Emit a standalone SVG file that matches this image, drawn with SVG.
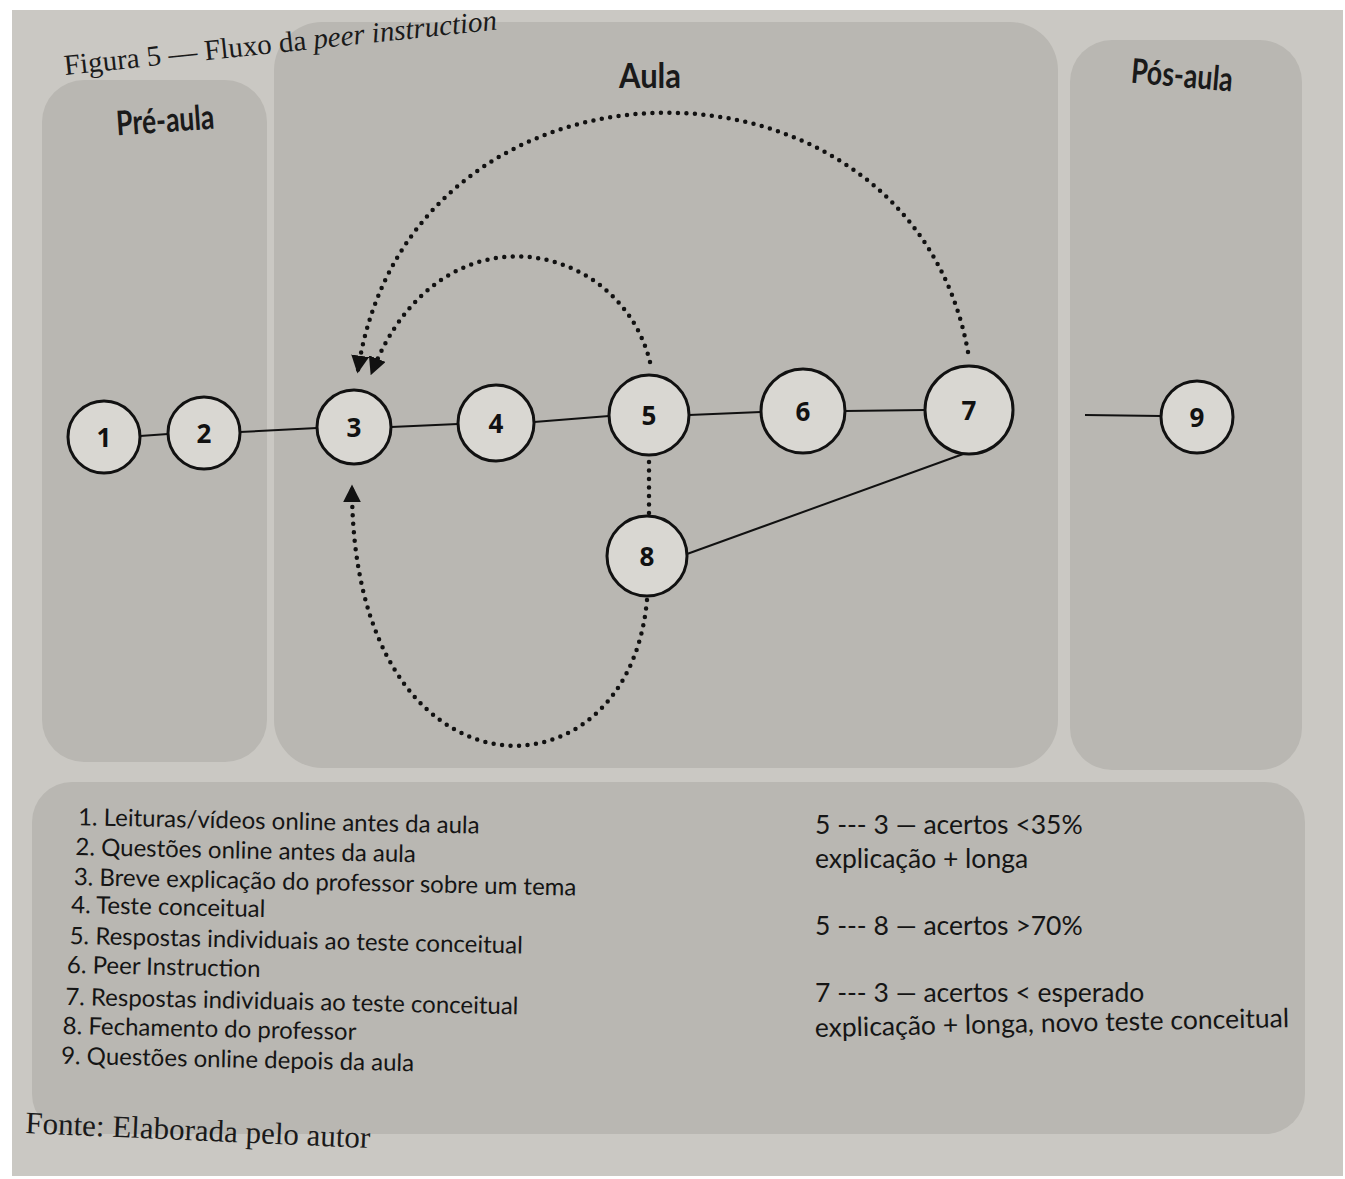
<svg xmlns="http://www.w3.org/2000/svg" width="1345" height="1179" viewBox="0 0 1345 1179">
<defs>
<style>
.panel{fill:#b9b7b2}
.node circle{fill:#d9d7d2;stroke:#111;stroke-width:3}
.node text{font-family:"Open Sans","Liberation Sans",sans-serif;font-weight:700;font-size:26px;fill:#111;text-anchor:middle;dominant-baseline:central}
.solid{stroke:#111;stroke-width:2;fill:none}
.dot{stroke:#111;stroke-width:4.5;fill:none;stroke-dasharray:0 8.5;stroke-linecap:round}
.hdr{font-family:Lato,"Open Sans",sans-serif;font-weight:700;font-size:34px;fill:#1a1a1a;text-anchor:middle}
.leg{font-family:Lato,"Open Sans",sans-serif;font-size:24px;fill:#151515}
.cap{font-family:"Liberation Serif",serif;font-size:29px;fill:#1a1a1a}
</style>
<marker id="arr" viewBox="0 0 10 10" refX="8" refY="5" markerWidth="4" markerHeight="4" orient="auto" markerUnits="strokeWidth">
<path d="M0,0 L10,5 L0,10 z" fill="#111"/>
</marker>
</defs>
<rect x="0" y="0" width="1345" height="1179" fill="#ffffff"/>
<rect x="12" y="10" width="1331" height="1166" fill="#cac8c3"/>
<g id="panels">
<rect class="panel" x="42" y="80" width="225" height="682" rx="42"/>
<rect class="panel" x="274" y="22" width="784" height="746" rx="48"/>
<rect class="panel" x="1070" y="40" width="232" height="730" rx="42"/>
<rect class="panel" x="32" y="782" width="1273" height="352" rx="40"/>
</g>
<text class="cap" x="65" y="75" transform="rotate(-6 65 75)">Figura 5 — Fluxo da <tspan font-style="italic">peer instruction</tspan></text>
<text class="hdr" x="166" y="132" transform="rotate(-4 166 132)" textLength="98" lengthAdjust="spacingAndGlyphs">Pré-aula</text>
<text class="hdr" x="650" y="88" textLength="62" lengthAdjust="spacingAndGlyphs">Aula</text>
<text class="hdr" x="1181" y="87" transform="rotate(5 1181 87)" textLength="102" lengthAdjust="spacingAndGlyphs">Pós-aula</text>
<g id="connectors">
<line class="solid" x1="140" y1="436" x2="168" y2="434"/>
<line class="solid" x1="240" y1="432" x2="317" y2="428"/>
<line class="solid" x1="391" y1="427" x2="458" y2="424"/>
<line class="solid" x1="534" y1="422" x2="609" y2="416"/>
<line class="solid" x1="689" y1="415" x2="761" y2="412"/>
<line class="solid" x1="845" y1="411" x2="925" y2="410"/>
<line class="solid" x1="966" y1="453" x2="687" y2="554"/>
<line class="solid" x1="1085" y1="415" x2="1161" y2="416"/>
<line class="dot" x1="649" y1="462" x2="649" y2="514"/>
<path class="dot" d="M650,362 C620,240 440,200 372,372" marker-end="url(#arr)"/>
<path class="dot" d="M968,352 C910,30 410,30 358,370" marker-end="url(#arr)"/>
<path class="dot" d="M647,600 C628,810 352,810 352,488" marker-end="url(#arr)"/>
</g>
<g id="node1" class="node"><circle cx="104" cy="437" r="36"/><text x="104" y="437">1</text></g>
<g id="node2" class="node"><circle cx="204" cy="433" r="36"/><text x="204" y="433">2</text></g>
<g id="node3" class="node"><circle cx="354" cy="427" r="37"/><text x="354" y="427">3</text></g>
<g id="node4" class="node"><circle cx="496" cy="423" r="38"/><text x="496" y="423">4</text></g>
<g id="node5" class="node"><circle cx="649" cy="415" r="40"/><text x="649" y="415">5</text></g>
<g id="node6" class="node"><circle cx="803" cy="411" r="42"/><text x="803" y="411">6</text></g>
<g id="node7" class="node"><circle cx="969" cy="410" r="44"/><text x="969" y="410">7</text></g>
<g id="node8" class="node"><circle cx="647" cy="556" r="40"/><text x="647" y="556">8</text></g>
<g id="node9" class="node"><circle cx="1197" cy="417" r="36"/><text x="1197" y="417">9</text></g>
<g id="legend" class="leg" transform="rotate(1.2 70 820)">
<text x="78" y="825">1. Leituras/vídeos online antes da aula</text>
<text x="76" y="855">2. Questões online antes da aula</text>
<text x="75" y="885">3. Breve explicação do professor sobre um tema</text>
<text x="73" y="913">4. Teste conceitual</text>
<text x="72" y="944">5. Respostas individuais ao teste conceitual</text>
<text x="70" y="973">6. Peer Instruction</text>
<text x="69" y="1005">7. Respostas individuais ao teste conceitual</text>
<text x="67" y="1034">8. Fechamento do professor</text>
<text x="66" y="1064">9. Questões online depois da aula</text>
</g>
<g id="notes" class="leg" style="font-size:26.5px">
<text x="815" y="834">5 --- 3 — acertos &lt;35%</text>
<text x="815" y="868">explicação + longa</text>
<text x="815" y="935">5 --- 8 — acertos &gt;70%</text>
<text x="815" y="1002">7 --- 3 — acertos &lt; esperado</text>
<text x="815" y="1037" transform="rotate(-1.2 815 1037)">explicação + longa, novo teste conceitual</text>
</g>
<text class="cap" x="25" y="1133" transform="rotate(2.5 25 1133)" style="font-size:31px">Fonte: Elaborada pelo autor</text>
</svg>
